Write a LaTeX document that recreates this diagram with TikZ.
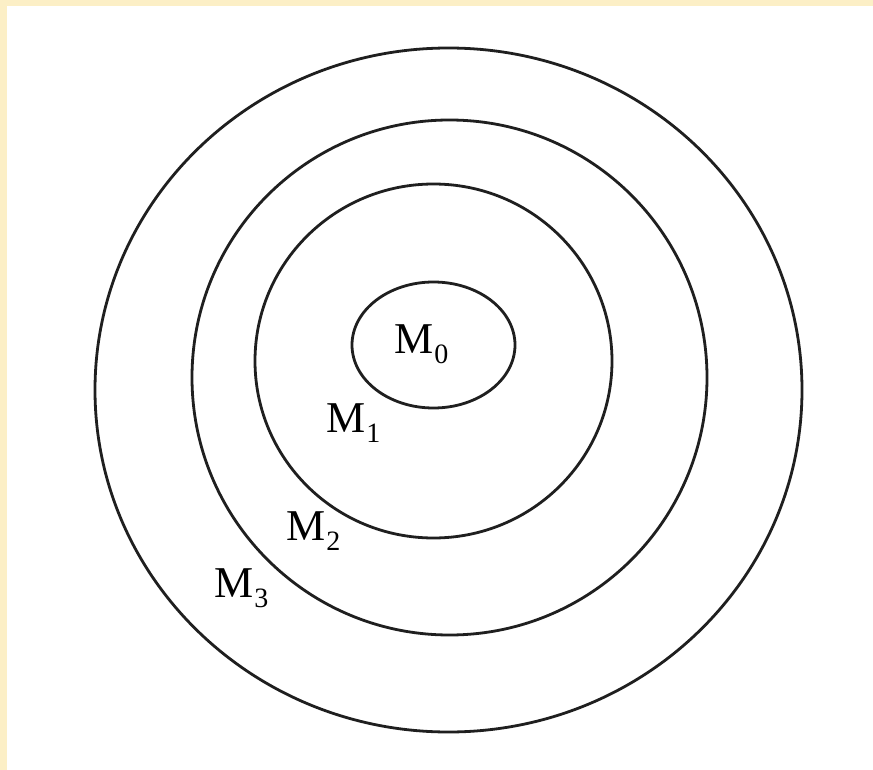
\documentclass[tikz,border=0pt]{standalone}
\usepackage{fontspec}
\setmainfont{Liberation Serif}
\definecolor{bgyellow}{HTML}{FCEFC6}
\newcommand\mlab[1]{M\kern1pt\raisebox{-10pt}{\fontsize{28}{28}\selectfont #1}}
\begin{document}
\begin{tikzpicture}[x=1pt,y=-1pt,
  ring/.style={draw=black!88, line width=2.8pt},
  lab/.style={inner sep=0pt, anchor=base west, font=\fontsize{44}{44}\selectfont}]
\fill[bgyellow] (0,0) rectangle (873,770);
\fill[white] (7,6) rectangle (873,770);
\useasboundingbox (0,0) rectangle (873,770);
\draw[ring] (448.5,390) ellipse [x radius=353.5, y radius=342];
\draw[ring] (449.5,377.5) ellipse [x radius=257.5, y radius=257.5];
\draw[ring] (433.5,361) ellipse [x radius=178.5, y radius=177];
\draw[ring] (433.5,345) ellipse [x radius=81.5, y radius=63];
\node[lab] (m0) at (394,353) {\mlab{0}};
\node[lab] (m1) at (326,432) {\mlab{1}};
\node[lab] (m2) at (286,540) {\mlab{2}};
\node[lab] (m3) at (214,597) {\mlab{3}};
\end{tikzpicture}
\end{document}
